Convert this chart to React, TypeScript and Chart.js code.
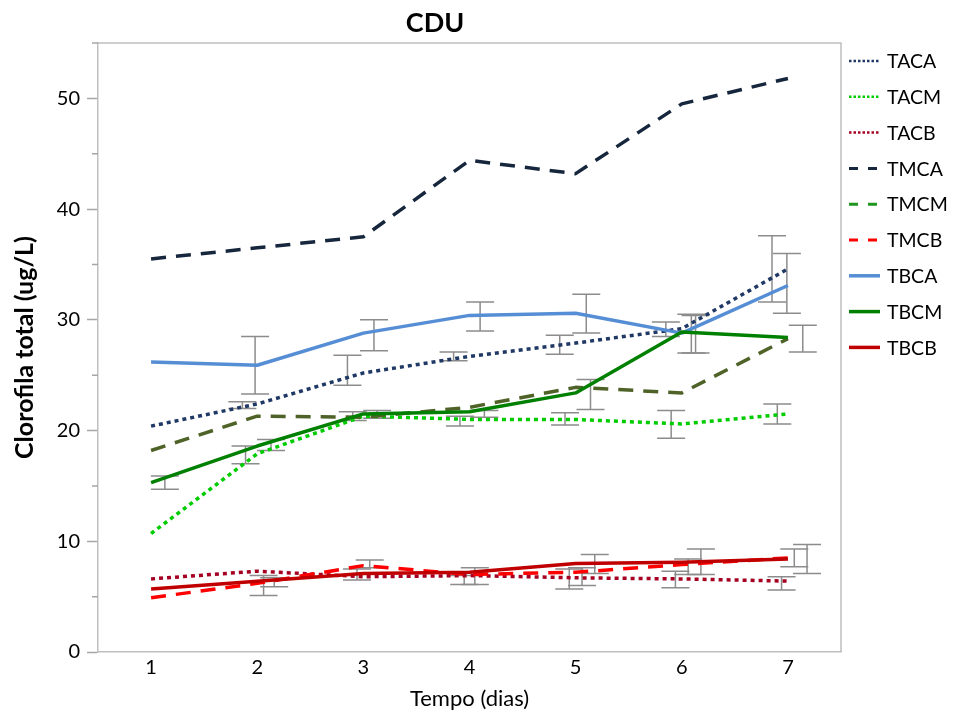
import React, { useEffect, useRef } from 'react';
import { Chart, registerables } from 'chart.js';
Chart.register(...registerables);

const days = ['1', '2', '3', '4', '5', '6', '7'];
const seriesNames = ['TACA', 'TACM', 'TACB', 'TMCA', 'TMCM', 'TMCB', 'TBCA', 'TBCM', 'TBCB'];

const TACA = [20.4, 22.4, 25.2, 26.7, 27.9, 29.2, 34.6];
const TACM = [10.7, 17.9, 21.3, 21.0, 21.0, 20.6, 21.5];
const TACB = [6.6, 7.3, 6.8, 6.9, 6.7, 6.6, 6.4];
const TMCA = [35.5, 36.5, 37.5, 44.4, 43.2, 49.5, 51.8];
const TMCM = [18.2, 21.3, 21.2, 22.1, 23.9, 23.4, 28.3];
const TMCB = [4.9, 6.2, 7.8, 7.0, 7.2, 7.9, 8.5];
const TBCA = [26.2, 25.9, 28.8, 30.4, 30.6, 28.8, 33.1];
const TBCM = [15.3, 18.6, 21.5, 21.7, 23.4, 28.9, 28.4];
const TBCB = [5.7, 6.4, 7.1, 7.2, 8.0, 8.1, 8.4];

// error bars: position on the day axis, upper and lower value
const errDay = [1.13, 1.98, 1.86, 1.89, 2.13, 2.06, 2.16, 3.10, 2.85, 2.90, 3.13, 3.06, 2.94, 4.10, 3.85, 3.91, 4.14, 4.05, 3.95, 5.10, 4.85, 5.14, 4.90, 5.18, 4.94, 5.06, 5.85, 6.09, 6.13, 5.90, 6.18, 6.06, 5.94, 6.85, 6.99, 7.14, 6.90, 7.18, 7.06, 6.94];
const errHigh = [15.9, 28.5, 22.6, 18.6, 19.2, 6.9, 6.7, 30.0, 26.8, 21.7, 21.8, 8.3, 7.5, 31.6, 27.1, 21.3, 21.8, 7.6, 6.9, 32.3, 28.6, 24.6, 21.6, 8.8, 7.5, 7.6, 29.8, 30.5, 30.4, 21.8, 9.3, 8.4, 7.3, 37.6, 36.0, 29.5, 22.4, 9.7, 9.3, 6.8];
const errLow = [14.7, 23.3, 22.0, 17.0, 18.2, 5.1, 5.9, 27.2, 24.1, 20.9, 21.1, 7.6, 6.5, 29.0, 26.3, 20.4, 21.2, 6.1, 6.1, 28.8, 26.9, 21.9, 20.5, 7.1, 5.7, 6.0, 28.5, 27.0, 27.0, 19.3, 7.0, 7.0, 5.8, 31.6, 30.6, 27.1, 20.6, 7.1, 7.7, 5.6];

const yMin = 0;
const yMax = 55;
const yStep = 10;
const yMinorTicks = [5, 15, 25, 35, 45, 55];

const FONT = "Lato, 'Open Sans', 'DejaVu Sans', sans-serif";

type Style = { color: string; legendColor: string; width: number; dash: number[]; kind: 'dot' | 'dash' | 'solid' };
const styles: Style[] = [
  { color: '#1F3864', legendColor: '#1F3864', width: 3.5, dash: [4, 4], kind: 'dot' },
  { color: '#00CC00', legendColor: '#00CC00', width: 3.5, dash: [4, 4], kind: 'dot' },
  { color: '#A50021', legendColor: '#A50021', width: 3.5, dash: [4, 4], kind: 'dot' },
  { color: '#16263D', legendColor: '#16263D', width: 3.5, dash: [15, 10], kind: 'dash' },
  { color: '#4F6228', legendColor: '#1E961E', width: 3.5, dash: [15, 10], kind: 'dash' },
  { color: '#FF0000', legendColor: '#FF0000', width: 3.5, dash: [15, 10], kind: 'dash' },
  { color: '#558ED5', legendColor: '#558ED5', width: 3.5, dash: [], kind: 'solid' },
  { color: '#008000', legendColor: '#008000', width: 3.5, dash: [], kind: 'solid' },
  { color: '#C00000', legendColor: '#C00000', width: 3.5, dash: [], kind: 'solid' },
];

const seriesData = [TACA, TACM, TACB, TMCA, TMCM, TMCB, TBCA, TBCM, TBCB];

const decor = {
  id: 'decor',
  beforeDatasetsDraw(chart: any) {
    const { ctx, chartArea, scales } = chart;
    const x = scales.x;
    const y = scales.y;
    ctx.save();
    // frame top & right
    ctx.strokeStyle = '#BFBFBF';
    ctx.lineWidth = 1.5;
    ctx.beginPath();
    ctx.moveTo(chartArea.left, chartArea.top);
    ctx.lineTo(chartArea.right, chartArea.top);
    ctx.lineTo(chartArea.right, chartArea.bottom);
    ctx.stroke();
    // minor ticks
    ctx.strokeStyle = '#A6A6A6';
    ctx.beginPath();
    yMinorTicks.forEach((v) => {
      const py = y.getPixelForValue(v);
      ctx.moveTo(chartArea.left - 6, py);
      ctx.lineTo(chartArea.left, py);
    });
    ctx.stroke();
    // error bars
    ctx.strokeStyle = '#8C8C8C';
    ctx.lineWidth = 1.5;
    const half = 14;
    errDay.forEach((d, i) => {
      const px = x.getPixelForValue(d - 1);
      const pt = y.getPixelForValue(errHigh[i]);
      const pb = y.getPixelForValue(errLow[i]);
      ctx.beginPath();
      ctx.moveTo(px, pt);
      ctx.lineTo(px, pb);
      ctx.moveTo(px - half, pt);
      ctx.lineTo(px + half, pt);
      ctx.moveTo(px - half, pb);
      ctx.lineTo(px + half, pb);
      ctx.stroke();
    });
    ctx.restore();
  },
  afterDraw(chart: any) {
    const { ctx, chartArea } = chart;
    ctx.save();
    // title
    ctx.fillStyle = '#000';
    ctx.font = `bold 27px ${FONT}`;
    ctx.textAlign = 'center';
    ctx.textBaseline = 'middle';
    ctx.fillText('CDU', 435, 23);
    // legend
    const lx0 = chartArea.right + 8;
    const lx1 = chartArea.right + 39;
    seriesNames.forEach((name, i) => {
      const s = styles[i];
      const ly = chartArea.top + 18 + i * 35.8;
      ctx.strokeStyle = s.legendColor;
      if (s.kind === 'dot') {
        ctx.lineWidth = 2.5;
        ctx.setLineDash([2.5, 2]);
      } else if (s.kind === 'dash') {
        ctx.lineWidth = 3;
        ctx.setLineDash([9, 10]);
      } else {
        ctx.lineWidth = 3.5;
        ctx.setLineDash([]);
      }
      ctx.beginPath();
      ctx.moveTo(lx0, ly);
      ctx.lineTo(lx1, ly);
      ctx.stroke();
      ctx.setLineDash([]);
      ctx.fillStyle = '#000';
      ctx.font = `19.5px ${FONT}`;
      ctx.textAlign = 'left';
      ctx.textBaseline = 'middle';
      ctx.fillText(name, chartArea.right + 46, ly + 1);
    });
    ctx.restore();
  },
};

export default function App() {
  const ref = useRef<HTMLCanvasElement>(null);
  useEffect(() => {
    document.body.style.margin = '0';
    const canvas = ref.current;
    if (!canvas) return;
    const chart = new Chart(canvas, {
      type: 'line',
      data: {
        labels: days,
        datasets: seriesNames.map((n, i) => ({
          label: n,
          data: seriesData[i],
          borderColor: styles[i].color,
          backgroundColor: styles[i].color,
          borderWidth: styles[i].width,
          borderDash: styles[i].dash,
          borderCapStyle: 'butt',
          borderJoinStyle: 'round',
          pointRadius: 0,
          pointHoverRadius: 0,
          tension: 0,
          fill: false,
          order: 8 - i,
        })),
      },
      options: {
        animation: false,
        responsive: false,
        layout: { padding: { top: 43, right: 113, left: 0, bottom: 0 } },
        plugins: {
          legend: { display: false },
          title: { display: false },
          tooltip: { enabled: false },
        },
        scales: {
          x: {
            type: 'category',
            offset: true,
            grid: { display: false, drawTicks: false },
            border: { display: true, color: '#BFBFBF', width: 1.5 },
            ticks: { font: { family: FONT, size: 20 }, color: '#000', padding: 4 },
            title: {
              display: true,
              text: 'Tempo (dias)',
              font: { family: FONT, size: 22 },
              color: '#000',
              padding: { top: 0, bottom: 0 },
            },
            afterFit: (s: any) => {
              s.height = 60;
            },
          },
          y: {
            min: yMin,
            max: yMax,
            ticks: {
              stepSize: yStep,
              includeBounds: false,
              font: { family: FONT, size: 20 },
              color: '#000',
              padding: 7,
            },
            grid: {
              display: true,
              drawOnChartArea: false,
              drawTicks: true,
              tickLength: 11,
              tickColor: '#A6A6A6',
              tickWidth: 1.5,
            },
            border: { display: true, color: '#BFBFBF', width: 1.5 },
            title: {
              display: true,
              text: 'Clorofila total (ug/L)',
              font: { family: FONT, size: 25, weight: 'bold' },
              color: '#000',
              padding: { top: 10, bottom: 0 },
            },
            afterFit: (s: any) => {
              s.width = 98;
            },
          },
        },
      } as any,
      plugins: [decor],
    });
    return () => chart.destroy();
  }, []);
  return <canvas ref={ref} width={954} height={712} style={{ display: 'block' }} />;
}
